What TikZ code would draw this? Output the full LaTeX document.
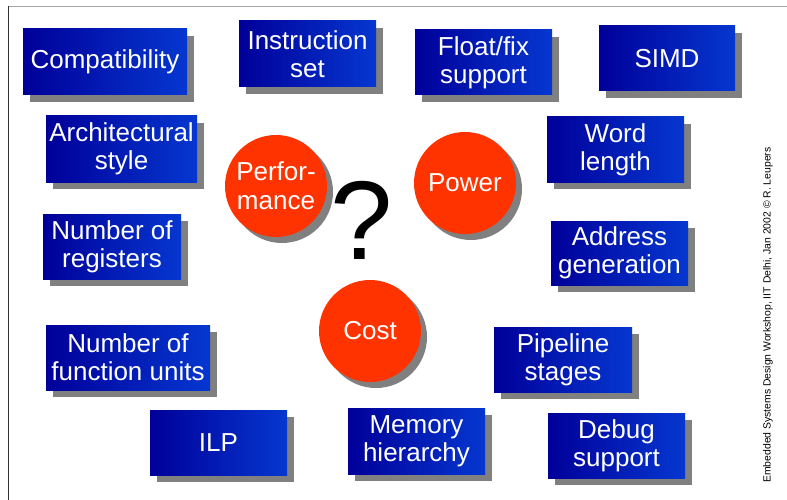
\documentclass[tikz,border=0pt]{standalone}
\usepackage{fontspec}
\setmainfont{Liberation Sans}
\usetikzlibrary{shadows}

\definecolor{featleft}{RGB}{0,0,153}
\definecolor{featright}{RGB}{5,55,208}
\definecolor{goalred}{RGB}{255,51,0}
\definecolor{shadowgray}{RGB}{128,128,128}

\begin{document}
\begin{tikzpicture}[
    x=1pt, y=-1pt,
    font=\fontsize{26}{28}\selectfont,
    feature/.style={
        rectangle, inner sep=0pt, align=center, text=white,
        left color=featleft, right color=featright,
        drop shadow={shadow xshift=7pt, shadow yshift=-7pt, fill=shadowgray, opacity=1}
    },
    goal/.style={
        circle, inner sep=0pt, minimum size=102pt, align=center,
        fill=goalred, text=white, font=\fontsize{26}{29}\selectfont,
        drop shadow={shadow xshift=6pt, shadow yshift=-6pt, fill=shadowgray, opacity=1}
    }
]

    \useasboundingbox (0,0) rectangle (787,500);

    % Slide frame
    \draw[gray!70, line width=1.2pt] (8,6.5) -- (787,6.5);
    \draw[black!80, line width=1pt] (8,6.5) -- (8,500);

    % Top row
    \node[feature, minimum width=164pt, minimum height=66pt] (compat) at (105,62) {Compatibility};
    \node[feature, minimum width=137pt, minimum height=66pt] (instr) at (307.5,54) {Instruction\\set};
    \node[feature, minimum width=137pt, minimum height=65pt] (float) at (483.5,62.5) {Float/fix\\support};
    \node[feature, minimum width=136pt, minimum height=65pt] (simd) at (667,58.5) {SIMD};

    % Left column
    \node[feature, minimum width=151pt, minimum height=66pt] (arch) at (121.5,149) {Architectural\\style};
    \node[feature, minimum width=138pt, minimum height=65pt] (regs) at (112,246.5) {Number of\\registers};
    \node[feature, minimum width=164pt, minimum height=65pt] (funits) at (128,357.5) {Number of\\function units};

    % Right column
    \node[feature, minimum width=137pt, minimum height=65pt] (word) at (615.5,149.5) {Word\\length};
    \node[feature, minimum width=137pt, minimum height=64pt] (addr) at (619.5,253) {Address\\generation};
    \node[feature, minimum width=138pt, minimum height=65pt] (pipe) at (563,359.5) {Pipeline\\stages};

    % Bottom row
    \node[feature, minimum width=137pt, minimum height=65pt] (ilp) at (218.5,442.5) {ILP};
    \node[feature, minimum width=137pt, minimum height=66pt] (mem) at (416.5,441) {Memory\\hierarchy};
    \node[feature, minimum width=137pt, minimum height=65pt] (debug) at (616.5,445.5) {Debug\\support};

    % Design goals
    \node[goal] (perf) at (276,186) {Perfor-\\mance};
    \node[goal] (power) at (465,183) {Power};
    \node[goal] (cost) at (370,331) {Cost};
    \node[font=\fontsize{112}{112}\selectfont] (quest) at (362,220) {?};

    % Footer along the right edge
    \node[rotate=90, font=\fontsize{10.4}{12}\selectfont] (credit) at (768,315)
        {Embedded Systems Design Workshop, IIT Delhi, Jan 2002 © R. Leupers};

\end{tikzpicture}
\end{document}
